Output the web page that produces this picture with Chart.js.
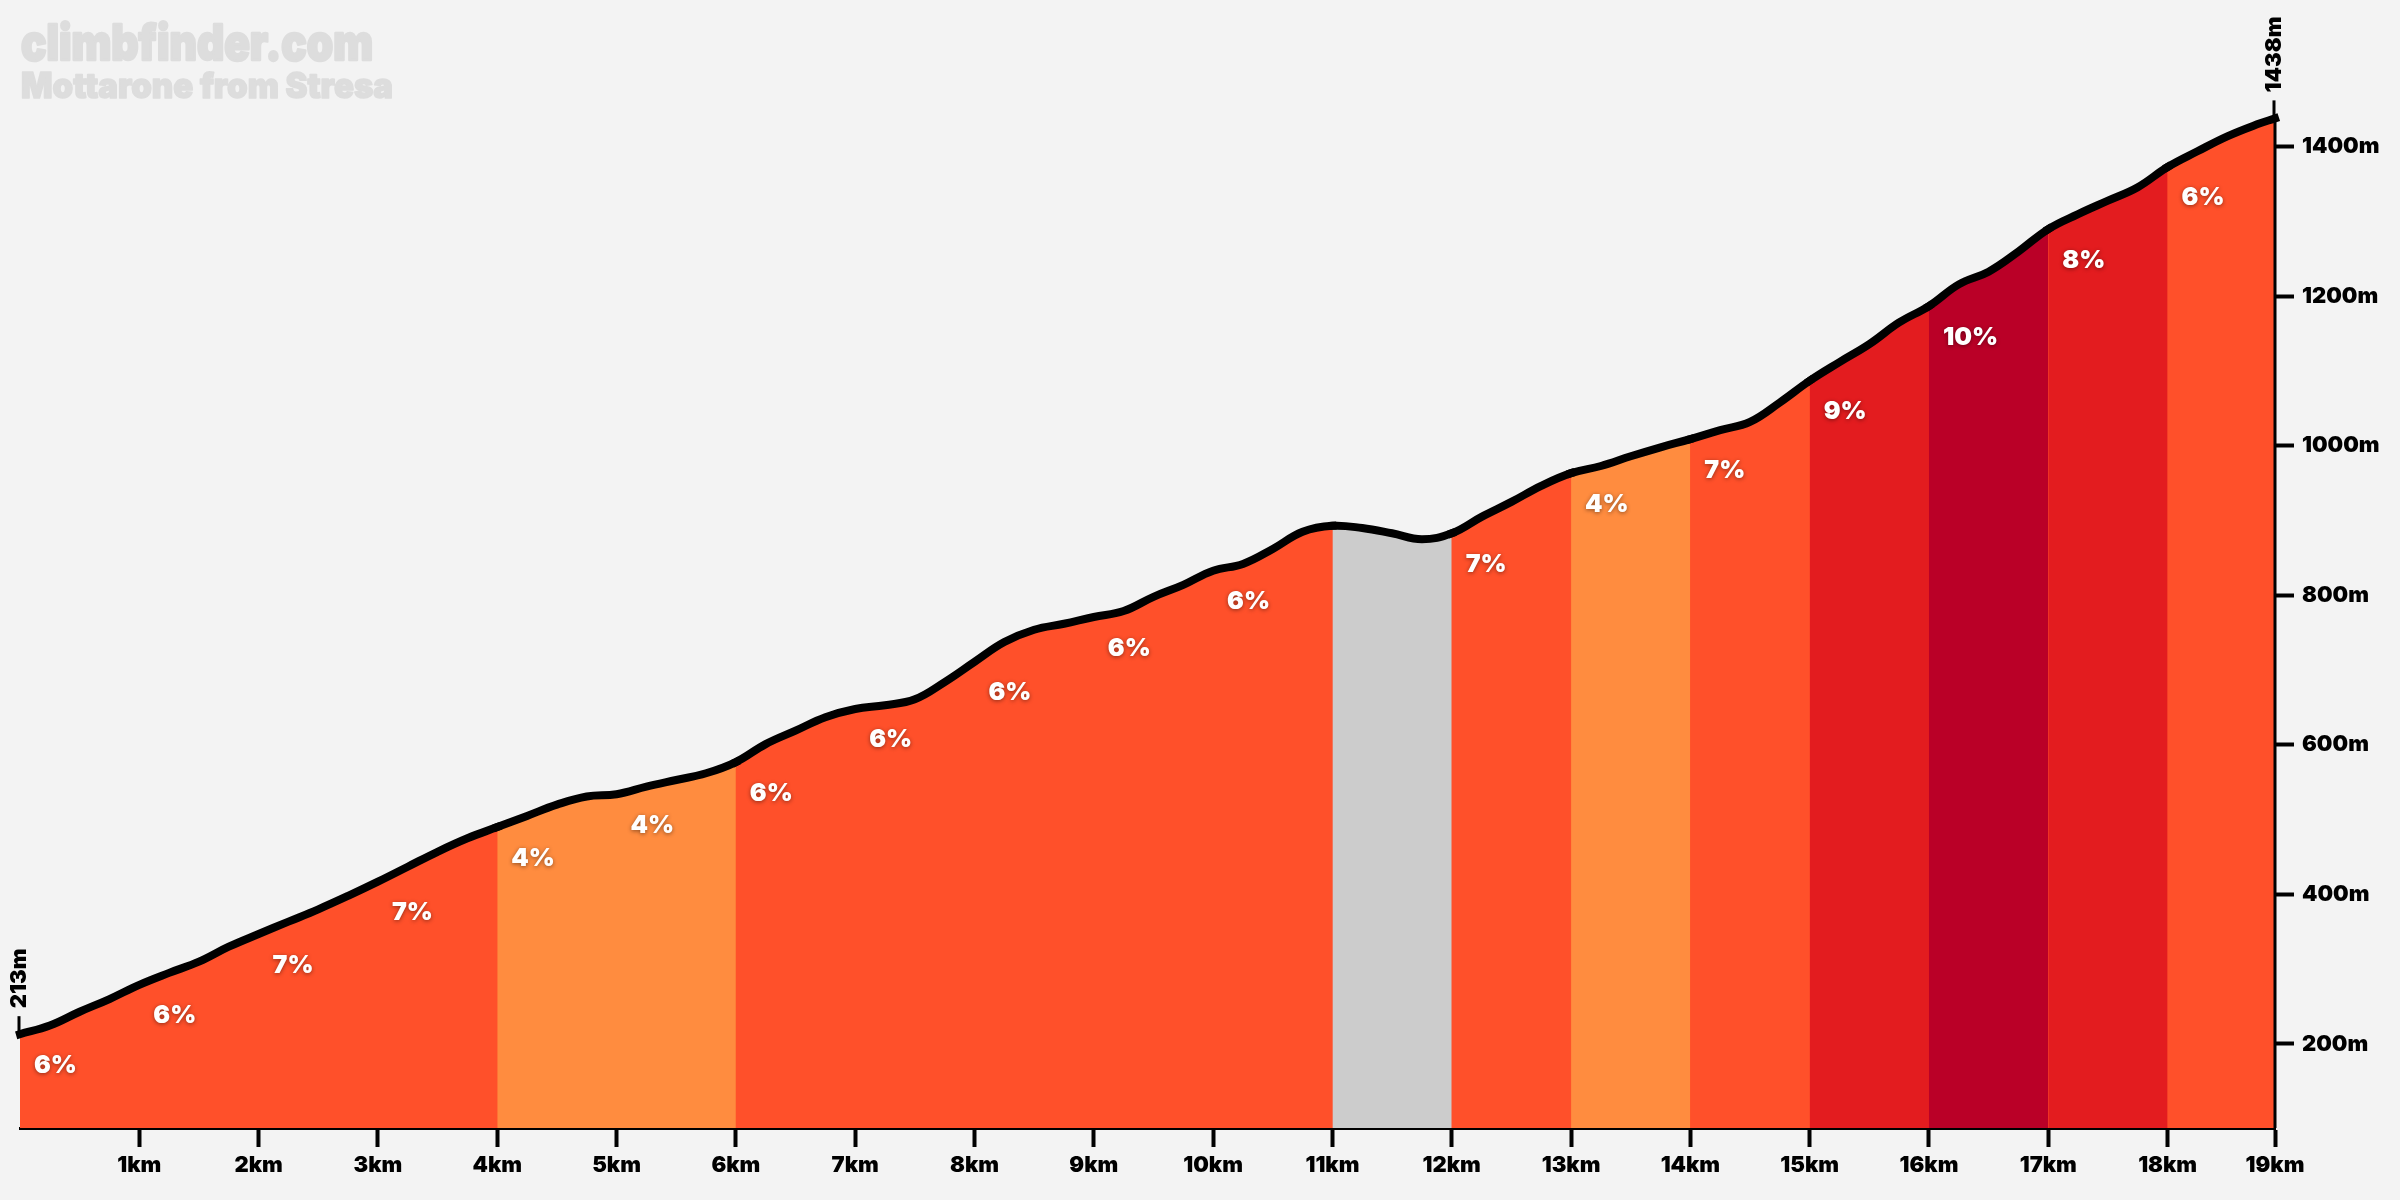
<!DOCTYPE html>
<html>
<head>
<meta charset="utf-8">
<title>Mottarone from Stresa</title>
<script src="https://cdn.jsdelivr.net/npm/chart.js@4"></script>
<style>
    html, body { margin: 0; padding: 0; background: #F3F3F3; }
    canvas { display: block; }
</style>
</head>
<body>
<canvas id="climbChart" width="2400" height="1200"></canvas>
<script>
document.addEventListener("DOMContentLoaded", function () {

    const canvas = document.getElementById("climbChart");

    if (!canvas) return;

    const fontFamily = "Inter, 'Noto Sans', sans-serif";

    // elevation read every 250m along the climb
    const elevation = [
        213, 224.5, 243, 260, 279, 295, 310, 330, 347, 363.5, 380, 398, 417, 437, 457, 475,
        490, 505, 520, 531, 534, 544, 553, 562, 577, 601, 619, 637, 648, 653, 661, 684,
        711, 737.5, 754, 762, 771, 779, 798, 814, 833, 842, 862, 885, 893, 890, 883, 875,
        883, 905, 925, 946.5, 963.5, 973, 986, 998, 1009, 1021, 1032, 1058, 1087, 1112, 1136, 1165,
        1187, 1216, 1233, 1260, 1290, 1310, 1328, 1346, 1373, 1394, 1414, 1430
    ];

    const profile = elevation.map(function (y, i) {
        return { x: i * 0.25, y: y };
    });

    const totalKm = 18.9;

    profile.push({ x: totalKm, y: 1438 });

    // grade of each km, null where the road goes down
    const grades = [6, 6, 7, 7, 4, 4, 6, 6, 6, 6, 6, null, 7, 4, 7, 9, 10, 8, 6];

    function gradeColor(grade) {
        if (grade === null) return "#CCCCCC";
        if (grade <= 4) return "#FF8C3F";
        if (grade <= 7) return "#FF502A";
        if (grade <= 9) return "#E31C1F";
        return "#BA0027";
    }

    const profileLabels = {
        id: "profileLabels",
        afterDatasetsDraw: function (chart) {
            const ctx = chart.ctx;
            const xScale = chart.scales.x;
            const yScale = chart.scales.y;

            // site name and climb name, stroked to get the fat round look
            ctx.save();
            ctx.fillStyle = "#DDDDDD";
            ctx.strokeStyle = "#DDDDDD";
            ctx.lineJoin = "round";
            ctx.textAlign = "left";
            ctx.textBaseline = "alphabetic";
            ctx.lineWidth = 2.5;
            ctx.font = "900 49px " + fontFamily;
            ctx.fillText("climbfinder.com", 21, 60, 352);
            ctx.strokeText("climbfinder.com", 21, 60, 352);
            ctx.lineWidth = 1.5;
            ctx.font = "900 35px " + fontFamily;
            ctx.fillText("Mottarone from Stresa", 21, 98, 372);
            ctx.strokeText("Mottarone from Stresa", 21, 98, 372);
            ctx.restore();

            // grade of each km
            ctx.save();
            ctx.font = "900 25px " + fontFamily;
            ctx.fillStyle = "#FFFFFF";
            ctx.textAlign = "left";
            ctx.textBaseline = "middle";
            ctx.shadowColor = "rgba(0,0,0,.45)";
            ctx.shadowBlur = 4;
            ctx.shadowOffsetY = 1;
            grades.forEach(function (grade, km) {
                if (grade === null) return;
                const start = elevation[km * 4];
                ctx.fillText(grade + "%", xScale.getPixelForValue(km) + 14, yScale.getPixelForValue(start) + 31);
            });
            ctx.restore();

            // start and finish height
            [profile[0], profile[profile.length - 1]].forEach(function (point) {
                const px = xScale.getPixelForValue(point.x);
                const py = yScale.getPixelForValue(point.y);
                ctx.save();
                ctx.strokeStyle = "#000000";
                ctx.lineWidth = 3;
                ctx.beginPath();
                ctx.moveTo(px - 1, py);
                ctx.lineTo(px - 1, py - 18);
                ctx.stroke();
                ctx.translate(px - 1, py - 26);
                ctx.rotate(-Math.PI / 2);
                ctx.font = "900 22px " + fontFamily;
                ctx.fillStyle = "#000000";
                ctx.textAlign = "left";
                ctx.textBaseline = "middle";
                ctx.fillText(point.y + "m", 0, 0);
                ctx.restore();
            });
        }
    };

    new Chart(canvas, {
        type: "line",
        data: {
            datasets: [
                {
                    data: profile,
                    borderColor: "#000000",
                    borderWidth: 8,
                    borderCapStyle: "square",
                    tension: .4,
                    pointRadius: 0,
                    clip: false,
                    order: 1,
                    fill: { value: 87.5 },
                    segment: {
                        backgroundColor: function (ctx) {
                            return gradeColor(grades[Math.floor(ctx.p0.parsed.x)]);
                        }
                    }
                },
                {
                    // plain layer under the colours, keeps the seams between km faint
                    data: profile,
                    borderWidth: 0,
                    backgroundColor: "#FF502A",
                    tension: .4,
                    pointRadius: 0,
                    order: 2,
                    fill: { value: 87.5 }
                },
                {
                    // right edge of the profile
                    data: [{ x: totalKm, y: 87.5 }, { x: totalKm, y: 1438 }],
                    borderColor: "#000000",
                    borderWidth: 3,
                    pointRadius: 0,
                    clip: false,
                    order: 0,
                    fill: false
                }
            ]
        },
        options: {
            responsive: false,
            animation: false,
            devicePixelRatio: 1,
            layout: {
                padding: { left: 20, top: 0, right: 0, bottom: 0 }
            },
            plugins: {
                legend: { display: false },
                tooltip: { enabled: false }
            },
            scales: {
                x: {
                    type: "linear",
                    min: 0,
                    max: totalKm,
                    afterBuildTicks: function (scale) {
                        const ticks = [];
                        for (let km = 0; km <= 18; km++) ticks.push({ value: km });
                        ticks.push({ value: totalKm });
                        scale.ticks = ticks;
                    },
                    afterFit: function (scale) {
                        scale.height = 72;
                    },
                    border: { display: true, color: "#000000", width: 3 },
                    grid: {
                        drawOnChartArea: false,
                        tickLength: 19,
                        tickWidth: 4,
                        tickColor: function (ctx) {
                            return ctx.tick && ctx.tick.value === 0 ? "transparent" : "#000000";
                        }
                    },
                    ticks: {
                        color: "#000000",
                        padding: 5,
                        autoSkip: false,
                        maxRotation: 0,
                        font: { family: fontFamily, size: 22, weight: "900" },
                        callback: function (value) {
                            return value === 0 ? "" : Math.round(value) + "km";
                        }
                    }
                },
                y: {
                    position: "right",
                    min: 87.5,
                    max: 1568,
                    afterBuildTicks: function (scale) {
                        const ticks = [];
                        for (let m = 200; m <= 1400; m += 200) ticks.push({ value: m });
                        scale.ticks = ticks;
                    },
                    afterFit: function (scale) {
                        scale.width = 125;
                    },
                    border: { display: false },
                    grid: {
                        drawOnChartArea: false,
                        tickLength: 19,
                        tickWidth: 4,
                        tickColor: "#000000"
                    },
                    ticks: {
                        color: "#000000",
                        padding: 8,
                        font: { family: fontFamily, size: 22, weight: "900" },
                        callback: function (value) {
                            return value + "m";
                        }
                    }
                }
            }
        },
        plugins: [profileLabels]
    });

});
</script>
</body>
</html>
